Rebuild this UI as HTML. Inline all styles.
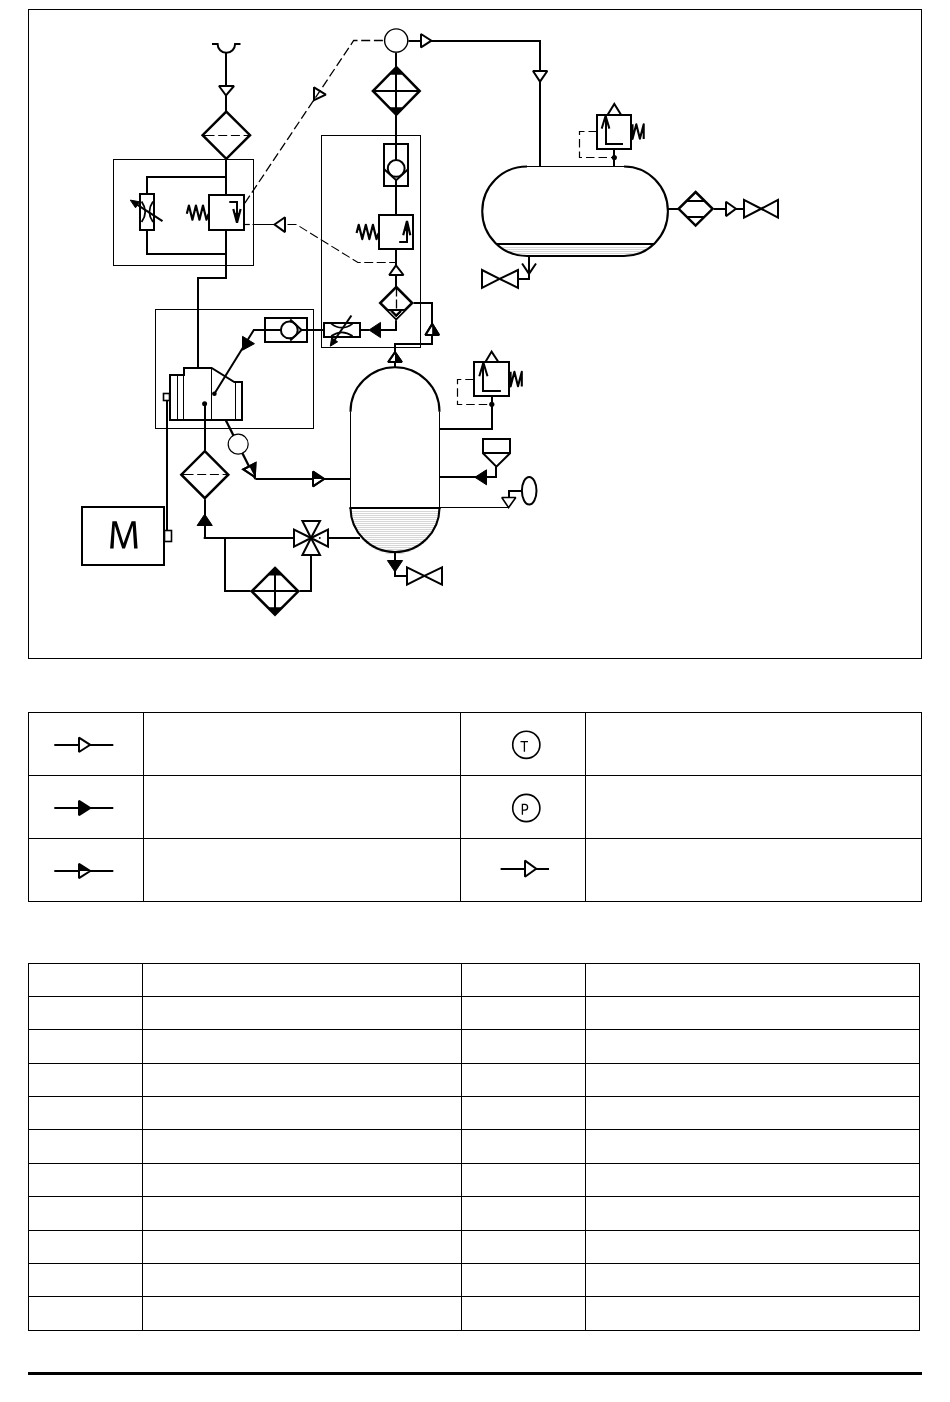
<!DOCTYPE html>
<html><head><meta charset="utf-8"><title>Compressed air system</title>
<style>
html,body{margin:0;padding:0;background:#fff;}
body{width:950px;height:1402px;overflow:hidden;font-family:"Liberation Sans",sans-serif;}
svg{display:block;position:absolute;left:0;top:0;}
</style></head><body>
<svg width="950" height="1402" viewBox="0 0 950 1402" stroke="#000" fill="none" stroke-linejoin="miter" stroke-miterlimit="2">
<defs><pattern id="hatch" patternUnits="userSpaceOnUse" width="4" height="2"><rect width="4" height="2" fill="#fff" stroke="none"/><rect y="1" width="4" height="1" fill="#d6d6d6" stroke="none"/></pattern></defs>
<rect x="28.5" y="9.5" width="893" height="649" stroke-width="1" fill="none"/>
<path d="M212,44 H217.6 A8.75,8.75 0 0 0 235.1,44 H240.5" stroke-width="2" fill="none"/>
<line x1="226" y1="52.5" x2="226" y2="111" stroke-width="2"/>
<polygon points="219,86 234,86 226,95.5" stroke-width="2" fill="#fff"/>
<polygon points="226.3,111.6 250,135.2 226.3,158.8 202.6,135.2" stroke-width="2.5" fill="#fff"/>
<line x1="203.5" y1="135.5" x2="249" y2="135.5" stroke-width="1.1" stroke-dasharray="11,3.7,9,3.7,9,3.7,9,3.7,20"/>
<rect x="113.5" y="159.5" width="140" height="106" stroke-width="1" fill="none"/>
<line x1="226" y1="159" x2="226" y2="195" stroke-width="2"/>
<polyline points="226,230 226,278 198,278 198,368" stroke-width="2" fill="none"/>
<polyline points="226,177 147,177 147,194" stroke-width="2" fill="none"/>
<polyline points="147,229.7 147,254 226,254" stroke-width="2" fill="none"/>
<rect x="140" y="194" width="14" height="36" stroke-width="2" fill="none"/>
<path d="M141.6,201.5 Q148.8,211.8 141.6,222.1" stroke-width="1.8" fill="none"/>
<path d="M153,201.5 Q145.8,211.8 153,222.1" stroke-width="1.8" fill="none"/>
<line x1="162.5" y1="221.2" x2="134" y2="202.6" stroke-width="2"/>
<polygon points="130.3,200.1 139.47,201.79 135.53,207.81" stroke-width="1" fill="#000"/>
<polyline points="186.8,213.78 188.91,205.6 192.43,219.7 195.94,205.6 199.46,219.7 202.97,205.6 206.49,219.7 208.6,213.78" stroke-width="2.2" fill="none" stroke-linejoin="round"/>
<rect x="209" y="195" width="35" height="35" stroke-width="2" fill="none"/>
<polyline points="229.3,202 237,202 237,222.5" stroke-width="2" fill="none"/>
<polyline points="233.3,209 237,222.8 240.6,209" stroke-width="2.2" fill="none"/>
<polygon points="234.8,213 237,222 239.2,213" fill="#000" stroke="none"/>
<polyline points="244.8,203.1 353.7,40.5 384.2,40.5" stroke-width="1.3" fill="none" stroke-dasharray="9,3.7"/>
<polygon points="314,87.3 325.8,94.7 314,100.1" stroke-width="2" fill="none"/>
<line x1="244.4" y1="224.5" x2="249.8" y2="224.5" stroke-width="1.2"/>
<line x1="252.5" y1="224.5" x2="274.5" y2="224.5" stroke-width="1"/>
<polygon points="274.5,224.5 285,217.3 285,232.1" stroke-width="2" fill="#fff"/>
<polyline points="287.5,224.5 296.4,224.5 357.9,262.5 396,262.5" stroke-width="1.1" fill="none" stroke-dasharray="9,3.5"/>
<line x1="408.4" y1="41" x2="540" y2="41" stroke-width="2"/>
<polygon points="421,34 421,47.4 431.4,40.7" stroke-width="2" fill="#fff"/>
<line x1="540" y1="40" x2="540" y2="166.5" stroke-width="2"/>
<polygon points="533,71 547.3,71 540,81.6" stroke-width="2" fill="#fff"/>
<line x1="396" y1="52.5" x2="396" y2="70" stroke-width="2"/>
<circle cx="396.2" cy="40.5" r="11.6" stroke-width="1.4" fill="#fff"/>
<polygon points="396.3,67.2 419.7,91 396.3,114.8 372.9,91" stroke-width="2.5" fill="#fff"/>
<line x1="396" y1="68.1" x2="396" y2="114.1" stroke-width="2"/>
<line x1="373" y1="91" x2="419.6" y2="91" stroke-width="2"/>
<polygon points="396.2,67.7 389.6,74.7 402.8,74.7" fill="#000" stroke="none"/>
<polygon points="396.2,114.3 389.6,107.3 402.8,107.3" fill="#000" stroke="none"/>
<line x1="396" y1="112" x2="396" y2="144" stroke-width="2"/>
<rect x="321.5" y="135.5" width="99" height="212" stroke-width="1" fill="none"/>
<rect x="384" y="144" width="24" height="42" stroke-width="2" fill="none"/>
<line x1="396" y1="144" x2="396" y2="160" stroke-width="2"/>
<circle cx="396.2" cy="168.4" r="8.4" stroke-width="2" fill="#fff"/>
<polyline points="384.5,169.4 396.2,180.2 407.8,169.4" stroke-width="2" fill="none"/>
<line x1="396" y1="180" x2="396" y2="214.7" stroke-width="2"/>
<rect x="379" y="215" width="34" height="34" stroke-width="2" fill="none"/>
<polyline points="356.6,233.09 358.73,224.8 362.28,239.1 365.83,224.8 369.37,239.1 372.92,224.8 376.47,239.1 378.6,233.09" stroke-width="2.2" fill="none" stroke-linejoin="round"/>
<polyline points="399.2,242 407,242 407,221.5" stroke-width="2" fill="none"/>
<polyline points="403.2,235.2 407,221 410.3,235.2" stroke-width="2.2" fill="none"/>
<polygon points="404.8,231 407,222 409,231" fill="#000" stroke="none"/>
<line x1="396" y1="248.9" x2="396" y2="287" stroke-width="2"/>
<polygon points="396,265.4 389.2,275 403.5,275" stroke-width="2" fill="#fff"/>
<polygon points="396.2,287 412.2,303 396.2,319 380.2,303" stroke-width="2.5" fill="#fff"/>
<line x1="396.5" y1="287.5" x2="396.5" y2="308.4" stroke-width="1.3" stroke-dasharray="9,3"/>
<line x1="387" y1="310" x2="405.8" y2="310" stroke-width="2"/>
<polyline points="391.5,311 396.2,315.7 400.9,311" stroke-width="2.4" fill="none"/>
<polyline points="389.2,310.9 396.2,317.9 403.2,310.9" stroke-width="0.9" fill="none" stroke="#fff"/>
<polyline points="396,320.3 396,330 380.6,330" stroke-width="2" fill="none"/>
<polygon points="369,330 380.5,322.4 380.5,337.6" stroke-width="1" fill="#000"/>
<line x1="369" y1="330" x2="360.1" y2="330" stroke-width="2"/>
<rect x="324" y="323" width="36" height="14" stroke-width="2" fill="none"/>
<path d="M331.2,323.6 Q341.9,331.8 352.6,323.6" stroke-width="1.8" fill="none"/>
<path d="M331.2,336.1 Q341.9,328.5 352.6,336.1" stroke-width="1.8" fill="none"/>
<line x1="351.4" y1="315.5" x2="333" y2="342.3" stroke-width="2"/>
<polygon points="330.3,346.2 331.61,337.79 337.59,341.81" stroke-width="1" fill="#000"/>
<polyline points="413.6,303 432,303 432,344 395,344 395,367" stroke-width="2" fill="none"/>
<polygon points="432.2,324 439,335 425.4,335" stroke-width="2" fill="#fff"/>
<polygon points="432.2,324 439,335 432.2,335" stroke="none" fill="#000"/>
<polygon points="432.2,324 439,335 425.4,335" stroke-width="2" fill="none"/>
<polygon points="395,352.2 401.8,362 388.2,362" stroke-width="2" fill="#fff"/>
<polygon points="395,352.2 401.8,362.2 395,362.2" stroke="none" fill="#000"/>
<polygon points="395,352.2 401.8,362 388.2,362" stroke-width="2" fill="none"/>
<line x1="323.6" y1="330" x2="307.3" y2="330" stroke-width="2"/>
<rect x="265" y="318" width="42" height="24" stroke-width="2" fill="none"/>
<circle cx="289.3" cy="329.9" r="8.4" stroke-width="2" fill="#fff"/>
<polyline points="290.2,319.4 301.6,329.9 290.2,340.4" stroke-width="2" fill="none"/>
<line x1="264.6" y1="330" x2="280.9" y2="330" stroke-width="2"/>
<line x1="301.6" y1="330" x2="307.3" y2="330" stroke-width="2"/>
<polyline points="264.6,330 253.8,330 214.4,393.8" stroke-width="2" fill="none"/>
<polygon points="242.5,350.2 242.5,336.32 254.46,343.68" stroke-width="1" fill="#000"/>
<rect x="155.5" y="309.5" width="158" height="119" stroke-width="1" fill="none"/>
<polygon points="170,375 184,375 184,368 211.6,368 234.3,382 242,382 242,420 170,420" stroke-width="2" fill="none"/>
<line x1="177.5" y1="374.7" x2="177.5" y2="420.2" stroke-width="1"/>
<line x1="183.5" y1="374.7" x2="183.5" y2="420.2" stroke-width="1"/>
<line x1="211.5" y1="367.7" x2="211.5" y2="420.2" stroke-width="1"/>
<line x1="235.5" y1="381.9" x2="235.5" y2="420.2" stroke-width="1"/>
<circle cx="204.6" cy="403.7" r="2.5" stroke="none" fill="#000"/>
<circle cx="214.4" cy="393.8" r="2.3" stroke="none" fill="#000"/>
<line x1="205" y1="403.7" x2="205" y2="450.5" stroke-width="2"/>
<rect x="163.5" y="393.5" width="6" height="7" stroke-width="1.6" fill="#fff"/>
<line x1="167" y1="400.8" x2="167" y2="530.5" stroke-width="2"/>
<rect x="82" y="507" width="82" height="58" stroke-width="2" fill="none"/>
<rect x="164.5" y="530.5" width="7" height="11" stroke-width="1.6" fill="none"/>
<polygon points="110.1,548.6 112.4,521.3 116.7,521.3 123.5,543.3 131.6,521.3 135.6,521.3 137.6,548.6 134.1,548.6 132.7,525.5 125,548.6 122.2,548.6 114.8,525.5 113.6,548.6" stroke="none" fill="#000"/>
<line x1="225.8" y1="420.2" x2="255.4" y2="479" stroke-width="2.3"/>
<circle cx="238.2" cy="444.2" r="10" stroke-width="1.2" fill="#fff"/>
<polygon points="254.8,477 243.33,469.36 255.47,463.24" stroke-width="2" fill="#fff"/>
<polygon points="254.8,477 255.47,463.24 249.4,466.3" stroke="none" fill="#000"/>
<polygon points="254.8,477 243.33,469.36 255.47,463.24" stroke-width="2" fill="none"/>
<line x1="255.4" y1="479" x2="350.6" y2="479" stroke-width="2"/>
<polygon points="324.1,479 313,486.3 313,471.7" stroke-width="2" fill="#fff"/>
<polygon points="324.1,479 312.7,471.7 312.7,479" stroke="none" fill="#000"/>
<polygon points="324.1,479 313,486.3 313,471.7" stroke-width="2" fill="none"/>
<polygon points="204.8,451.2 228.3,474.7 204.8,498.2 181.3,474.7" stroke-width="2.5" fill="#fff"/>
<line x1="182.5" y1="474.5" x2="227" y2="474.5" stroke-width="1.1" stroke-dasharray="11,3.7,9,3.7,9,3.7,9,3.7,20"/>
<line x1="205" y1="499.2" x2="205" y2="538" stroke-width="2"/>
<polygon points="204.7,514.2 212.3,525.5 197.1,525.5" stroke-width="1" fill="#000"/>
<line x1="203.7" y1="538" x2="293.8" y2="538" stroke-width="2"/>
<polygon points="294,529.6 294,546.6 311,538" stroke-width="2" fill="#fff"/>
<polygon points="328,529.6 328,546.6 311,538" stroke-width="2" fill="#fff"/>
<polygon points="302.4,521 320,521 311,538" stroke-width="2" fill="#fff"/>
<polygon points="302.4,555 320,555 311,538" stroke-width="2" fill="#fff"/>
<circle cx="311" cy="538" r="1.6" stroke="none" fill="#000"/>
<circle cx="319.8" cy="538" r="0.9" stroke="none" fill="#000"/>
<line x1="328.3" y1="538" x2="360" y2="538" stroke-width="2"/>
<polyline points="225,538 225,591 250.6,591" stroke-width="2" fill="none"/>
<polyline points="299.5,591 311,591 311,555.3" stroke-width="2" fill="none"/>
<polygon points="275,567.9 298.3,591.3 275,614.7 251.7,591.3" stroke-width="2.5" fill="#fff"/>
<line x1="275" y1="568.3" x2="275" y2="614.3" stroke-width="2"/>
<line x1="252.1" y1="591" x2="297.9" y2="591" stroke-width="2"/>
<polygon points="275,568.4 268.4,575.4 281.6,575.4" fill="#000" stroke="none"/>
<polygon points="275,614.2 268.4,607.2 281.6,607.2" fill="#000" stroke="none"/>
<path d="M350.6,510 A44.4,44.4 0 0 0 439.4,510 Z" fill="url(#hatch)" stroke="none"/>
<line x1="350.5" y1="411.5" x2="350.5" y2="508" stroke-width="1"/>
<line x1="439.5" y1="411.5" x2="439.5" y2="508" stroke-width="1"/>
<path d="M350.5,411.8 A44.5,44.5 0 0 1 439.5,411.8" stroke-width="2.1" fill="none"/>
<path d="M350.5,507.5 A44.5,44.5 0 0 0 439.5,507.5" stroke-width="2.1" fill="none"/>
<line x1="349.5" y1="508" x2="440.5" y2="508" stroke-width="2"/>
<polyline points="439.4,429 492,429 492,396.1" stroke-width="2" fill="none"/>
<rect x="474" y="362" width="35" height="34" stroke-width="2" fill="none"/>
<polygon points="485.4,362 498.4,362 491.6,351.6" stroke-width="2" fill="#fff"/>
<polyline points="500.9,391 483,391 483,363" stroke-width="2" fill="none"/>
<polyline points="479.3,376.3 483.4,362.6 487.5,376.3" stroke-width="2" fill="none"/>
<polyline points="510.6,371.8 510.6,386.5 514.4,371.8 518,386.3 521.8,371.8 521.8,386.5" stroke-width="2.1" fill="none" stroke-linejoin="round"/>
<polyline points="473.8,379.5 457.5,379.5 457.5,404.5 491.8,404.5" stroke-width="1.2" fill="none" stroke-dasharray="8.5,4"/>
<circle cx="491.8" cy="404.3" r="2.6" stroke="none" fill="#000"/>
<polyline points="439.4,477 496,477 496,466.6" stroke-width="2" fill="none"/>
<polygon points="474.9,477.3 486.5,469.8 486.5,484.8" stroke-width="1" fill="#000"/>
<rect x="483" y="439" width="27" height="14" stroke-width="2" fill="#fff"/>
<polyline points="483,453.3 496.4,466.6 510,453.3" stroke-width="2" fill="none"/>
<line x1="439.4" y1="507.5" x2="508.3" y2="507.5" stroke-width="1.2"/>
<polygon points="501.8,497.5 515.8,497.5 508.6,507.6" stroke-width="1.6" fill="#fff"/>
<polyline points="509,497.9 509,491 521.8,491" stroke-width="2" fill="none"/>
<ellipse cx="529.2" cy="490.8" rx="7.3" ry="13.8" stroke-width="2" fill="#fff"/>
<line x1="395" y1="552" x2="395" y2="576" stroke-width="2"/>
<polygon points="395,571.9 387.4,560.5 402.6,560.5" stroke-width="1" fill="#000"/>
<line x1="394" y1="576" x2="407.1" y2="576" stroke-width="2"/>
<polygon points="407,567.3 424.35,575.95 407,584.6" stroke-width="2" fill="#fff"/>
<polygon points="442,567.3 424.35,575.95 442,584.6" stroke-width="2" fill="#fff"/>
<path d="M498.5,246 H652.5 A43.9,44.75 0 0 1 624,256 H527 A44.75,44.75 0 0 1 498.5,246 Z" fill="url(#hatch)" stroke="none"/>
<path d="M527,166.5 A44.75,44.75 0 0 0 527,256" stroke-width="2.1" fill="none"/>
<path d="M624,166.5 A43.9,44.75 0 0 1 624,256" stroke-width="2.1" fill="none"/>
<line x1="527" y1="166.5" x2="624" y2="166.5" stroke-width="1"/>
<line x1="527" y1="256" x2="624" y2="256" stroke-width="2"/>
<line x1="496.5" y1="244" x2="654.5" y2="244" stroke-width="2"/>
<line x1="614" y1="148.6" x2="614" y2="166.2" stroke-width="2"/>
<rect x="597" y="115" width="34" height="34" stroke-width="2" fill="none"/>
<polygon points="607.5,115 621.2,115 614.3,104" stroke-width="2" fill="#fff"/>
<polyline points="623,144 606,144 606,116.5" stroke-width="2" fill="none"/>
<polyline points="601.7,128.6 605.6,115.8 609.4,128.6" stroke-width="2" fill="none"/>
<polyline points="632.5,124.2 632.5,138.9 636.3,124.2 639.9,138.7 643.7,124.2 643.7,138.9" stroke-width="2.1" fill="none" stroke-linejoin="round"/>
<polyline points="597,131.5 579.5,131.5 579.5,157.5 614.3,157.5" stroke-width="1.2" fill="none" stroke-dasharray="8.5,4"/>
<circle cx="614.3" cy="157.5" r="2.6" stroke="none" fill="#000"/>
<polyline points="529,255.8 529,279 517.5,279" stroke-width="2" fill="none"/>
<polyline points="522.1,263.5 529,273.9 536,263.5" stroke-width="2" fill="none"/>
<polygon points="482,270 499.55,278.9 482,287.8" stroke-width="2" fill="#fff"/>
<polygon points="518,270 499.55,278.9 518,287.8" stroke-width="2" fill="#fff"/>
<line x1="667.5" y1="209" x2="678" y2="209" stroke-width="2"/>
<polygon points="695.6,192 712.6,208.8 695.6,225.6 678.6,208.8" stroke-width="2.5" fill="#fff"/>
<line x1="686.3" y1="201" x2="704.9" y2="201" stroke-width="2"/>
<line x1="686.3" y1="217" x2="704.9" y2="217" stroke-width="2"/>
<line x1="713.8" y1="209" x2="744" y2="209" stroke-width="2"/>
<polygon points="726,201.8 726,216.1 735.9,208.7" stroke-width="2" fill="#fff"/>
<polygon points="744,199.9 761.15,208.75 744,217.6" stroke-width="2" fill="#fff"/>
<polygon points="778,199.9 761.15,208.75 778,217.6" stroke-width="2" fill="#fff"/>
<rect x="28.5" y="712.5" width="893" height="189" stroke-width="1" fill="none"/>
<line x1="28" y1="775.5" x2="922" y2="775.5" stroke-width="1"/>
<line x1="28" y1="838.5" x2="922" y2="838.5" stroke-width="1"/>
<line x1="143.5" y1="712" x2="143.5" y2="902" stroke-width="1"/>
<line x1="460.5" y1="712" x2="460.5" y2="902" stroke-width="1"/>
<line x1="585.5" y1="712" x2="585.5" y2="902" stroke-width="1"/>
<line x1="54.3" y1="745" x2="113.3" y2="745" stroke-width="2"/>
<polygon points="79,737.6 79,752 90.2,744.8" stroke-width="2" fill="#fff"/>
<line x1="54.3" y1="808" x2="113.3" y2="808" stroke-width="2"/>
<polygon points="79,800.8 79,815.2 90.2,808" stroke-width="2" fill="#000"/>
<line x1="54.3" y1="871" x2="113.3" y2="871" stroke-width="2"/>
<polygon points="79,863.8 79,878.2 90.2,871" stroke-width="2" fill="#fff"/>
<polygon points="79,863.8 79,871 90.2,871" fill="#000" stroke="none"/>
<circle cx="526.3" cy="744.8" r="13.6" stroke-width="1.6" fill="#fff"/>
<circle cx="526.3" cy="808" r="13.6" stroke-width="1.6" fill="#fff"/>
<path d="M520.5,741.6 H528 M524.4,741.6 V751.7" stroke-width="1.3" fill="none"/>
<path d="M522.4,814.7 V804.4 H524.8 C526.9,804.4 527.6,805.8 527.6,807.3 C527.6,809 526.5,810.2 524.6,810.2 H522.4" stroke-width="1.3" fill="none"/>
<line x1="500.6" y1="869" x2="549" y2="869" stroke-width="2"/>
<polygon points="525,860.6 525,876.8 536.2,868.8" stroke-width="2" fill="#fff"/>
<rect x="28.5" y="963.5" width="891" height="367" stroke-width="1" fill="none"/>
<line x1="28" y1="996.5" x2="920" y2="996.5" stroke-width="1"/>
<line x1="28" y1="1029.5" x2="920" y2="1029.5" stroke-width="1"/>
<line x1="28" y1="1063.5" x2="920" y2="1063.5" stroke-width="1"/>
<line x1="28" y1="1096.5" x2="920" y2="1096.5" stroke-width="1"/>
<line x1="28" y1="1129.5" x2="920" y2="1129.5" stroke-width="1"/>
<line x1="28" y1="1163.5" x2="920" y2="1163.5" stroke-width="1"/>
<line x1="28" y1="1196.5" x2="920" y2="1196.5" stroke-width="1"/>
<line x1="28" y1="1230.5" x2="920" y2="1230.5" stroke-width="1"/>
<line x1="28" y1="1263.5" x2="920" y2="1263.5" stroke-width="1"/>
<line x1="28" y1="1296.5" x2="920" y2="1296.5" stroke-width="1"/>
<line x1="142.5" y1="963.5" x2="142.5" y2="1330.5" stroke-width="1"/>
<line x1="461.5" y1="963.5" x2="461.5" y2="1330.5" stroke-width="1"/>
<line x1="585.5" y1="963.5" x2="585.5" y2="1330.5" stroke-width="1"/>
<rect x="28" y="1372" width="894" height="3" fill="#000" stroke="none"/>
</svg>
</body></html>
